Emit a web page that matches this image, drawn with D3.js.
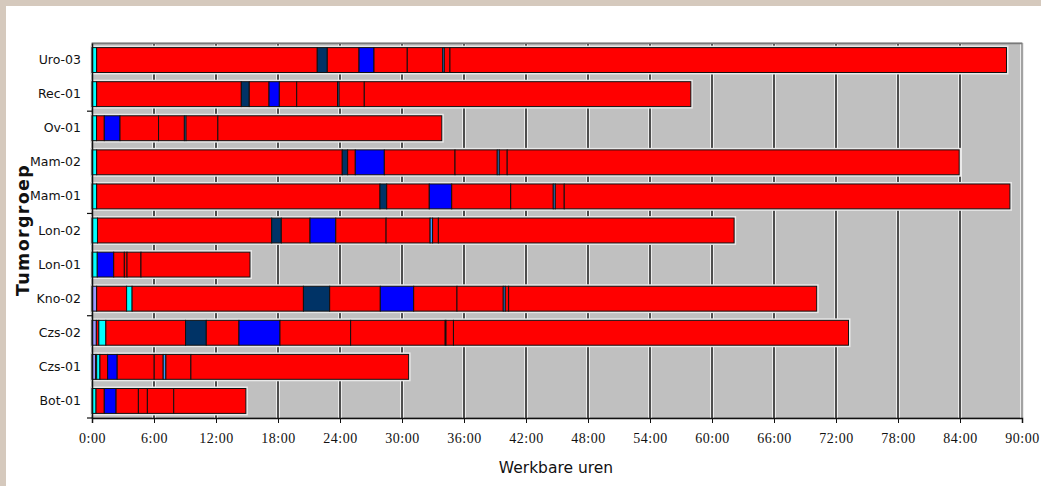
<!DOCTYPE html>
<html>
<head>
<meta charset="utf-8">
<script src="https://cdn.jsdelivr.net/npm/d3@7"></script>
<style>
  html, body { margin: 0; padding: 0; background: #d5c9bd; }
  svg { display: block; }
</style>
</head>
<body>
<svg id="chart" width="1041" height="486"></svg>
<script>
// Categories (top to bottom)
const categories = ["Uro-03", "Rec-01", "Ov-01", "Mam-02", "Mam-01", "Lon-02", "Lon-01", "Kno-02", "Czs-02", "Czs-01", "Bot-01"];

// Stacked series values in hours, one value per category (same order as categories)
const stap01 = [0,     0,     0,     0,     0,     0,     0,     0.45,  0.42,  0.35, 0];     // lavender
const stap02 = [0,     0,     0,     0,     0,     0,     0,     2.9,   0.24,  0.1,  0];     // red
const stap03 = [0.45,  0.45,  0.44,  0.45,  0.45,  0.53,  0.51,  0.53,  0.68,  0.32, 0.39];  // cyan
const stap04 = [21.35, 14.0,  0.75,  23.77, 27.42, 16.86, 0,     16.58, 7.71,  0.74, 0.8];   // red
const stap05 = [0.97,  0.77,  0,     0.52,  0.65,  0.93,  0,     2.54,  2.01,  0,    0];     // navy
const stap06 = [3.07,  1.91,  0,     0.74,  4.12,  2.78,  0,     4.9,   3.16,  0,    0];     // red
const stap07 = [1.45,  1.0,   1.52,  2.81,  2.17,  2.49,  1.59,  3.23,  3.97,  0.93, 1.14];  // blue
const stap08 = [3.22,  1.68,  3.73,  6.84,  5.71,  4.87,  1.03,  4.19,  6.84,  3.58, 2.16];  // red
const stap09 = [3.43,  3.95,  2.5,   4.09,  4.12,  4.26,  0.26,  4.48,  9.15,  0.87, 0.87];  // red
const stap10 = [0.15,  0.15,  0.16,  0.19,  0.19,  0.24,  0,     0.19,  0.08,  0.26, 0];     // light blue
const stap11 = [0.55,  2.44,  3.08,  0.77,  0.87,  0.56,  1.35,  0.33,  0.72,  2.42, 2.55];  // red
const stap12 = [53.86, 31.6,  21.67, 43.74, 43.13, 28.62, 10.55, 29.81, 38.23, 21.07, 6.98]; // red

const seriesKeys = ["stap01","stap02","stap03","stap04","stap05","stap06","stap07","stap08","stap09","stap10","stap11","stap12"];
const seriesColors = ["#9999ff","#ff0000","#00ffff","#ff0000","#003366","#ff0000","#0000ff","#ff0000","#ff0000","#3399ff","#ff0000","#ff0000"];
const seriesArrays = [stap01,stap02,stap03,stap04,stap05,stap06,stap07,stap08,stap09,stap10,stap11,stap12];

const xTicks = [0, 6, 12, 18, 24, 30, 36, 42, 48, 54, 60, 66, 72, 78, 84, 90];
const xTitle = "Werkbare uren";
const yTitle = "Tumorgroep";

// Build table for d3.stack
const table = categories.map((c, i) => {
  const row = { cat: c };
  seriesKeys.forEach((k, j) => { row[k] = seriesArrays[j][i]; });
  return row;
});

const svg = d3.select("#chart");
// white panel
svg.append("rect").attr("x", 6).attr("y", 6).attr("width", 1041 - 6).attr("height", 486 - 6).attr("fill", "#ffffff");

const pL = 92, pR = 1022, pT = 43, pB = 418;

const x = d3.scaleLinear().domain([0, 90]).range([pL, pR]);
const y = d3.scaleBand().domain(categories).range([pT, pB]).paddingInner(0.27).paddingOuter(0.135);

// plot background
svg.append("rect").attr("x", pL).attr("y", pT).attr("width", pR - pL).attr("height", pB - pT)
  .attr("fill", "#c0c0c0").attr("stroke", "#8a8a8a").attr("stroke-width", 1);

// gridlines with light halo
const grid = svg.append("g");
grid.selectAll("line.halo").data(xTicks.slice(1)).join("line")
  .attr("x1", d => x(d)).attr("x2", d => x(d)).attr("y1", pT).attr("y2", pB)
  .attr("stroke", "#ececec").attr("stroke-width", 4);
grid.selectAll("line.g").data(xTicks.slice(1, -1)).join("line")
  .attr("x1", d => x(d)).attr("x2", d => x(d)).attr("y1", pT).attr("y2", pB)
  .attr("stroke", "#1a1a1a").attr("stroke-width", 1.5);
svg.append("line").attr("x1", x(90)).attr("x2", x(90)).attr("y1", pT).attr("y2", pB)
  .attr("stroke", "#8a8a8a").attr("stroke-width", 1.5);
svg.append("line").attr("x1", pL).attr("x2", pR).attr("y1", pT + 0.5).attr("y2", pT + 0.5)
  .attr("stroke", "#7a7a7a").attr("stroke-width", 1.5);

// stacked bars
const stacked = d3.stack().keys(seriesKeys)(table);
const totals = table.map(r => seriesKeys.reduce((s, k) => s + r[k], 0));

// halo around each bar
svg.append("g").selectAll("rect").data(table).join("rect")
  .attr("x", x(0)).attr("y", d => y(d.cat))
  .attr("width", (d, i) => x(totals[i]) - x(0)).attr("height", y.bandwidth())
  .attr("fill", "none").attr("stroke", "#e8e8e8").attr("stroke-width", 4);

const barG = svg.append("g");
stacked.forEach((layer, j) => {
  barG.append("g").attr("fill", seriesColors[j])
    .selectAll("rect").data(layer.filter(d => d[1] - d[0] > 0)).join("rect")
    .attr("x", d => x(d[0])).attr("y", d => y(d.data.cat))
    .attr("width", d => x(d[1]) - x(d[0])).attr("height", y.bandwidth())
    .attr("stroke", "#111").attr("stroke-width", 1);
});

// x axis
const xAxis = d3.axisBottom(x).tickValues(xTicks).tickFormat(d => d + ":00").tickSize(5).tickPadding(10);
const gx = svg.append("g").attr("transform", `translate(0,${pB})`).call(xAxis);
gx.select(".domain").attr("stroke", "#111").attr("stroke-width", 1.5);
gx.selectAll(".tick line").attr("stroke", "#111");
gx.selectAll("text").attr("font-family", "'Liberation Serif', serif").attr("font-size", 14)
  .attr("letter-spacing", 0.5).attr("fill", "#111");

// y axis
const yAxis = d3.axisLeft(y).tickSize(0).tickPadding(11);
const gy = svg.append("g").attr("transform", `translate(${pL},0)`).call(yAxis);
gy.select(".domain").attr("stroke", "#111").attr("stroke-width", 1.5);
gy.selectAll("text").attr("font-family", "'DejaVu Sans', sans-serif").attr("font-size", 12.5).attr("fill", "#111");

// y boundary tick marks every 3 categories from bottom
const step = y.step();
const yTickPos = [0, 3, 6, 9].map(k => pB - k * step);
svg.append("g").selectAll("line").data(yTickPos).join("line")
  .attr("x1", pL - 5).attr("x2", pL).attr("y1", d => d).attr("y2", d => d)
  .attr("stroke", "#111").attr("stroke-width", 1.2);

// titles
svg.append("text").attr("x", 556).attr("y", 473).attr("text-anchor", "middle")
  .attr("font-family", "'DejaVu Sans', sans-serif").attr("font-size", 15.5).attr("fill", "#111").text(xTitle);

svg.append("text").attr("transform", "translate(29,230) rotate(-90)").attr("text-anchor", "middle")
  .attr("font-family", "'DejaVu Sans', sans-serif").attr("font-weight", "bold").attr("font-size", 17.5)
  .attr("letter-spacing", 1.3).attr("fill", "#111").text(yTitle);
</script>
</body>
</html>
